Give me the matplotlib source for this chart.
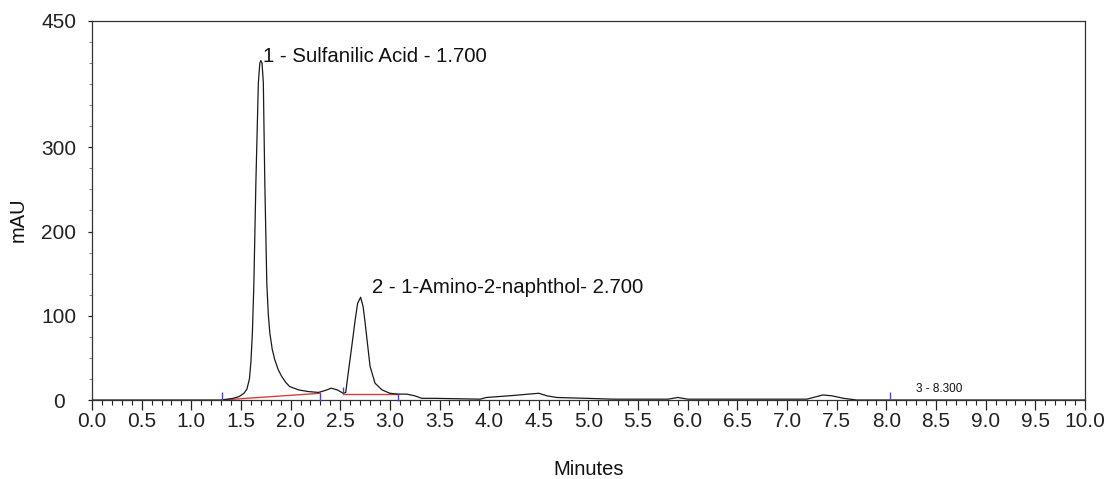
import numpy as np
import matplotlib
matplotlib.use("Agg")
import matplotlib.pyplot as plt
from matplotlib.ticker import MultipleLocator, FixedLocator

plt.rcParams['font.family'] = ['Liberation Sans', 'DejaVu Sans']

# chromatogram trace (minutes, mAU)
trace_time = [0.00, 1.30, 1.36, 1.42, 1.48, 1.53, 1.56, 1.585, 1.60, 1.615,
              1.63, 1.65, 1.675, 1.69, 1.70, 1.712, 1.725, 1.74, 1.76, 1.775,
              1.79, 1.815, 1.84, 1.875, 1.91, 1.95, 1.99, 2.08, 2.18, 2.28,
              2.34, 2.41, 2.47, 2.53, 2.555, 2.58, 2.615, 2.65, 2.675, 2.705,
              2.73, 2.75, 2.77, 2.80, 2.85, 2.92, 3.00, 3.08, 3.17, 3.25,
              3.32, 3.45, 3.91, 3.97, 4.20, 4.50, 4.58, 4.68, 4.98, 5.25,
              5.80, 5.90, 6.00, 7.20, 7.36, 7.45, 7.57, 7.70, 10.00]
trace_mau = [0, 0, 1, 2, 4, 8, 13, 25, 45, 80,
             139, 258, 377, 400, 403, 400, 377, 258, 139, 102,
             80, 60, 48, 36, 28, 21, 16, 12, 10, 9,
             11, 14, 12, 8, 9, 32, 63, 95, 115, 122,
             111, 92, 71, 40, 20, 12, 8, 7, 7, 5,
             2, 2, 1, 3, 5, 8, 5, 3, 2, 1,
             1, 3, 1, 1, 6, 5, 2, 0, 0]

# integration baselines (red) and peak start/end marks (blue)
baseline_segments = [([1.31, 2.30], [0, 8]), ([2.53, 3.08], [7, 7])]
mark_time = [1.31, 2.30, 2.53, 3.08, 8.04]
mark_low = [0, -1, 8, -1, 1]
mark_high = [10, 8, 16, 7, 10]

peak_labels = ["1 - Sulfanilic Acid - 1.700", "2 - 1-Amino-2-naphthol- 2.700", "3 - 8.300"]
label_time = [1.725, 2.82, 8.30]
label_mau = [401, 127, 10]
label_size = [14.7, 14.7, 8.5]

fig = plt.figure(figsize=(11.13, 4.79), dpi=100)
ax = fig.add_axes([0.0827, 0.1649, 0.8921, 0.7913])

ax.plot(trace_time, trace_mau, color='#1a1a1a', lw=0.9, zorder=3)
for xs, ys in baseline_segments:
    ax.plot(xs, ys, color='#d84040', lw=1.0, zorder=2)
ax.vlines(mark_time, mark_low, mark_high, color='#4a4ad0', lw=1.0, zorder=4, clip_on=False)

for txt, tx, ty, fs in zip(peak_labels, label_time, label_mau, label_size):
    ax.text(tx, ty, txt, fontsize=fs, ha='left', va='baseline', color='#111111')

ax.set_xlim(0, 10)
ax.set_ylim(0, 450)

ax.xaxis.set_major_locator(MultipleLocator(0.5))
ax.xaxis.set_minor_locator(MultipleLocator(0.1))
ax.xaxis.set_major_formatter(matplotlib.ticker.FormatStrFormatter('%.1f'))
ax.yaxis.set_major_locator(FixedLocator([0, 100, 200, 300, 450]))
ax.yaxis.set_minor_locator(MultipleLocator(25))

ax.tick_params(axis='x', which='major', direction='out', length=7, width=0.9,
               labelsize=15, pad=1.5, colors='#222222')
ax.tick_params(axis='x', which='minor', direction='out', length=3.6, width=0.8, colors='#222222')
ax.tick_params(axis='y', which='major', direction='out', length=3, width=0.9,
               labelsize=15, pad=21, colors='#222222')
ax.tick_params(axis='y', which='minor', direction='out', length=2, width=0.6, colors='#666666')
for lab in ax.get_yticklabels():
    lab.set_horizontalalignment('center')

for sp in ax.spines.values():
    sp.set_color('#333333')
    sp.set_linewidth(0.9)

ax.set_xlabel("Minutes", fontsize=14.5, color='#111111')
ax.xaxis.set_label_coords(0.5, -0.158)
ax.set_ylabel("mAU", fontsize=14.5, color='#111111')
ax.yaxis.set_label_coords(-0.0645, 0.476)

fig.savefig("out.png", dpi=100)
